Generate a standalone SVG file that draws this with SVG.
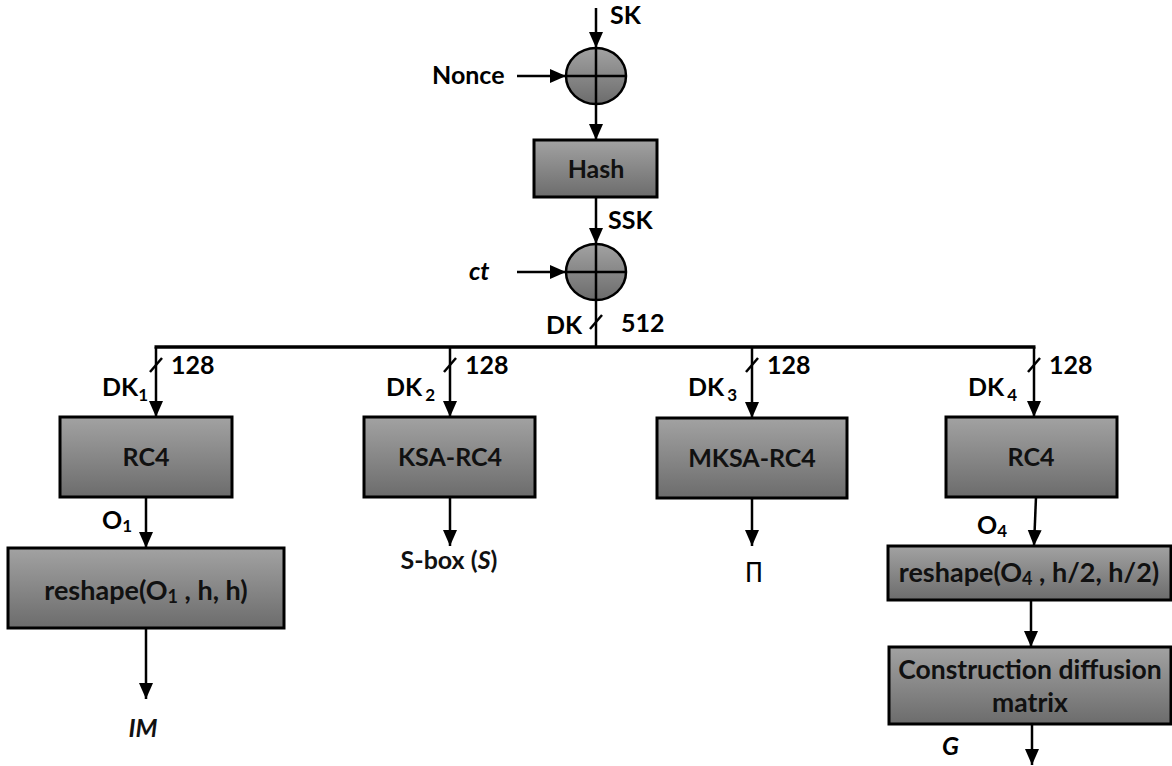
<svg xmlns="http://www.w3.org/2000/svg" width="1172" height="766" viewBox="0 0 1172 766">
<style>
.box{fill:url(#g);stroke:#000;stroke-width:3}
.xor{fill:url(#g);stroke:#000;stroke-width:2.5}
.ln{fill:none;stroke:#000;stroke-width:2.5}
.arr{fill:none;stroke:#000;stroke-width:2.5;marker-end:url(#ah)}
.t{font-family:Lato,"Liberation Sans",sans-serif;font-weight:bold;font-size:25px;fill:#000}
.bt{font-family:Lato,"Liberation Sans",sans-serif;font-weight:bold;font-size:25px;fill:#111;text-anchor:middle}
.it{font-style:italic}
</style>
<defs>
<linearGradient id="g" x1="0" y1="0" x2="0" y2="1">
<stop offset="0" stop-color="#a2a2a2"/>
<stop offset="1" stop-color="#6c6c6c"/>
</linearGradient>
<marker id="ah" markerUnits="userSpaceOnUse" markerWidth="16" markerHeight="18" refX="16" refY="7" orient="auto">
<path d="M0,0 L16,7 L0,14 Z" fill="#000"/>
</marker>
</defs>

<g id="connectors">
<path class="arr" d="M596,8 V48"/>
<path class="arr" d="M517,76 H566"/>
<path class="arr" d="M596,104 V140"/>
<path class="arr" d="M596,197 V244"/>
<path class="arr" d="M517,272 H566"/>
<path class="ln" d="M596,300 V348"/>
<path class="ln" style="stroke-width:3.5" d="M154.5,347 H1035.5"/>
<path class="arr" d="M156,347 V417"/>
<path class="arr" d="M450,347 V417"/>
<path class="arr" d="M752,347 V418"/>
<path class="arr" d="M1034,347 V417"/>
<path class="arr" d="M146,497 V548"/>
<path class="arr" d="M146,628 V699"/>
<path class="arr" d="M450,497 V546"/>
<path class="arr" d="M752,498 V546"/>
<path class="arr" d="M1036,497 L1034,546"/>
<path class="arr" d="M1031,600 V647"/>
<path class="arr" d="M1032,724 V765"/>
<g class="ln">
<path d="M590,329 L602,315"/>
<path d="M150,372 L162,358"/>
<path d="M444,372 L456,358"/>
<path d="M746,372 L758,358"/>
<path d="M1028,372 L1040,358"/>
</g>
</g>

<g id="xor1">
<ellipse class="xor" cx="596" cy="76" rx="30" ry="28"/>
<path class="ln" d="M566,76 H626 M596,48 V104"/>
</g>
<g id="xor2">
<ellipse class="xor" cx="596" cy="272" rx="30" ry="28"/>
<path class="ln" d="M566,272 H626 M596,244 V300"/>
</g>

<g id="hash"><rect class="box" x="534" y="140" width="123" height="57"/><text class="bt" x="596" y="178">Hash</text></g>
<g id="rc4a"><rect class="box" x="60" y="417" width="172" height="80"/><text class="bt" x="146" y="466">RC4</text></g>
<g id="ksa"><rect class="box" x="364" y="417" width="171" height="80"/><text class="bt" x="450" y="466">KSA-RC4</text></g>
<g id="mksa"><rect class="box" x="657" y="418" width="190" height="80"/><text class="bt" x="752" y="467">MKSA-RC4</text></g>
<g id="rc4b"><rect class="box" x="946" y="417" width="171" height="80"/><text class="bt" x="1031" y="466">RC4</text></g>
<g id="reshape1"><rect class="box" x="8" y="548" width="276" height="80"/><text class="bt" x="146" y="600" style="font-size:27px">reshape(O<tspan font-size="18" dy="3">1</tspan><tspan dy="-3"> , h, h)</tspan></text></g>
<g id="reshape2"><rect class="box" x="888" y="546" width="283" height="54"/><text class="bt" x="1029" y="582" style="font-size:27px">reshape(O<tspan font-size="18" dy="3">4</tspan><tspan dy="-3"> , h/2, h/2)</tspan></text></g>
<g id="construction"><rect class="box" x="889" y="647" width="282" height="77"/><text class="bt" x="1030" y="679" style="font-size:26.5px">Construction diffusion</text><text class="bt" x="1030" y="712" style="font-size:26.5px">matrix</text></g>

<g id="labels">
<text class="t" x="610" y="24">SK</text>
<text class="t" x="432" y="84">Nonce</text>
<text class="t" x="608" y="229">SSK</text>
<text class="t it" x="469" y="280">ct</text>
<text class="t" x="546" y="334">DK</text>
<text class="t" x="621" y="332">512</text>
<text class="t" x="171" y="374">128</text>
<text class="t" x="465" y="374">128</text>
<text class="t" x="767" y="374">128</text>
<text class="t" x="1049" y="374">128</text>
<text class="t" x="102" y="396">DK<tspan font-size="17" dy="5">1</tspan></text>
<text class="t" x="386" y="396">DK<tspan font-size="17" dx="3" dy="5">2</tspan></text>
<text class="t" x="688" y="396">DK<tspan font-size="17" dx="3" dy="5">3</tspan></text>
<text class="t" x="968" y="396">DK<tspan font-size="17" dx="3" dy="5">4</tspan></text>
<text class="t" x="102" y="529">O<tspan font-size="17" dy="3">1</tspan></text>
<text class="t" x="977" y="534">O<tspan font-size="17" dy="3">4</tspan></text>
<text class="bt" x="449" y="569">S-box (<tspan class="it">S</tspan>)</text>
<text x="754" y="578" style="font-family:'DejaVu Sans',sans-serif;font-size:22px;text-anchor:middle">∏</text>
<text class="bt it" x="143" y="737">IM</text>
<text class="t it" x="942" y="755">G</text>
</g>
</svg>
